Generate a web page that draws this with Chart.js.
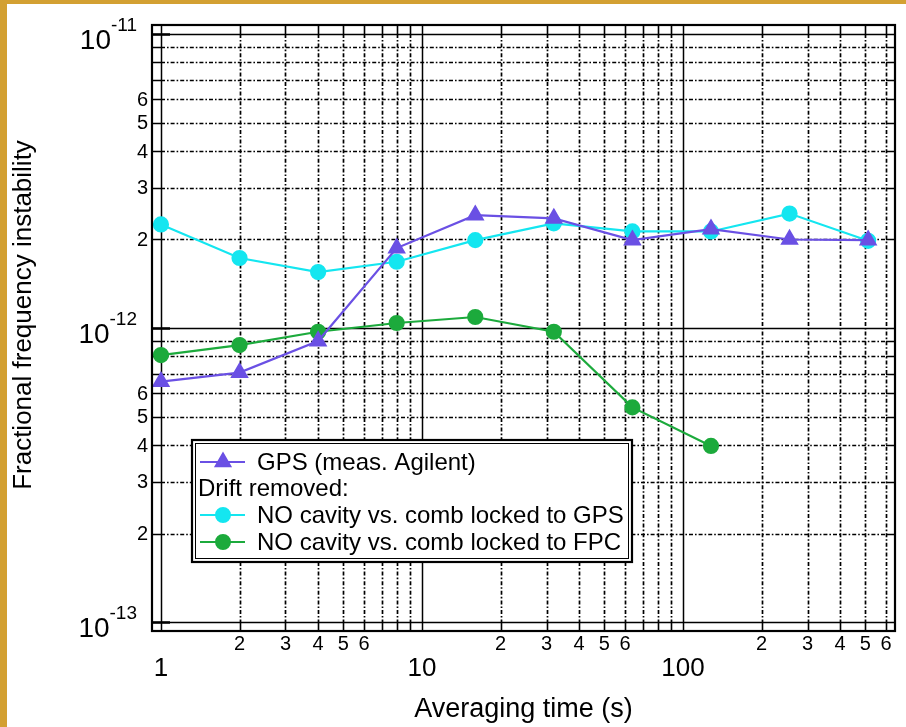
<!DOCTYPE html>
<html>
<head>
<meta charset="utf-8">
<script src="https://cdn.jsdelivr.net/npm/chart.js@4.4.0/dist/chart.umd.min.js"></script>
<style>
  html, body { margin: 0; padding: 0; background: #fff; }
  #wrap { width: 906px; height: 727px; }
</style>
</head>
<body>
<div id="wrap"><canvas id="adev" width="906" height="727"></canvas></div>
<script>
// averaging times (s) and Allan deviations
const tau = [1, 2, 4, 8, 16, 32, 64, 128, 256, 512];
const gpsAgilent = [6.57e-13, 7.05e-13, 9.03e-13, 1.87e-12, 2.42e-12, 2.36e-12, 1.99e-12, 2.17e-12, 2.0e-12, 1.99e-12];
const cavityVsGps = [2.25e-12, 1.73e-12, 1.55e-12, 1.68e-12, 1.99e-12, 2.27e-12, 2.13e-12, 2.13e-12, 2.45e-12, 1.98e-12];
const cavityVsFpc = [8.09e-13, 8.75e-13, 9.71e-13, 1.04e-12, 1.09e-12, 9.71e-13, 5.37e-13, 3.97e-13];

// axis labelling
const xDecades = [1, 10, 100];
const xMinorLabels = [2, 3, 4, 5, 6];
const yExponents = [-13, -12, -11];
const yMinorLabels = [2, 3, 4, 5, 6];

const X_MIN = 0.924, X_MAX = 649;
const Y_MIN = 9.32e-14, Y_MAX = 1.073e-11;

const FONT = '"Liberation Sans", Arial, Helvetica, sans-serif';
const GOLD = '#d3a032';
const GRID_DASH = [4, 2, 1.6, 2];

function pts(ys) {
  return ys.map((y, i) => ({ x: tau[i], y: y }));
}

// every 1..9 x 10^n inside [lo, hi]
function logLines(lo, hi) {
  const out = [];
  const n0 = Math.floor(Math.log10(lo)), n1 = Math.ceil(Math.log10(hi));
  for (let n = n0; n <= n1; n++) {
    for (let k = 1; k <= 9; k++) {
      const v = k * Math.pow(10, n);
      if (v >= lo * 0.9999 && v <= hi * 1.0001) out.push({ v: v, major: k === 1 });
    }
  }
  return out;
}

const framePlugin = {
  id: 'allanFrame',
  beforeDraw(chart) {
    const ctx = chart.ctx;
    ctx.save();
    ctx.fillStyle = '#fff';
    ctx.fillRect(0, 0, chart.width, chart.height);
    ctx.fillStyle = GOLD;
    ctx.fillRect(0, 0, chart.width, 4);
    ctx.fillRect(0, 0, 7, chart.height);
    ctx.restore();
  },
  beforeDatasetsDraw(chart) {
    const { ctx, chartArea: a, scales } = chart;
    const xs = scales.x, ys = scales.y;
    const T = 9;
    ctx.save();
    ctx.strokeStyle = '#000';
    // vertical lines
    logLines(X_MIN, X_MAX).forEach(g => {
      const px = Math.round(xs.getPixelForValue(g.v)) + 0.5;
      ctx.beginPath();
      if (g.major) {
        ctx.setLineDash([]);
        ctx.lineWidth = 1.5;
        ctx.moveTo(px, a.top); ctx.lineTo(px, a.bottom);
        ctx.stroke();
      } else {
        ctx.setLineDash(GRID_DASH);
        ctx.lineWidth = 1.7;
        ctx.moveTo(px, a.top + T); ctx.lineTo(px, a.bottom - T);
        ctx.stroke();
        ctx.setLineDash([]);
        ctx.lineWidth = 1.6;
        ctx.beginPath();
        ctx.moveTo(px, a.top); ctx.lineTo(px, a.top + T);
        ctx.moveTo(px, a.bottom - T); ctx.lineTo(px, a.bottom);
        ctx.stroke();
      }
    });
    // horizontal lines
    logLines(Y_MIN, Y_MAX).forEach(g => {
      const py = Math.round(ys.getPixelForValue(g.v)) + 0.5;
      ctx.beginPath();
      if (g.major) {
        ctx.setLineDash([]);
        ctx.lineWidth = 1.5;
        ctx.moveTo(a.left, py); ctx.lineTo(a.right, py);
        ctx.stroke();
        ctx.lineWidth = 2.5;
        ctx.beginPath();
        ctx.moveTo(a.left, py); ctx.lineTo(a.left + 18, py);
        ctx.stroke();
      } else {
        ctx.setLineDash(GRID_DASH);
        ctx.lineWidth = 1.7;
        ctx.moveTo(a.left + T, py); ctx.lineTo(a.right - T, py);
        ctx.stroke();
        ctx.setLineDash([]);
        ctx.lineWidth = 1.6;
        ctx.beginPath();
        ctx.moveTo(a.left, py); ctx.lineTo(a.left + T, py);
        ctx.moveTo(a.right - T, py); ctx.lineTo(a.right, py);
        ctx.stroke();
      }
    });
    ctx.restore();
  },
  afterDatasetsDraw(chart) {
    const { ctx, chartArea: a, scales } = chart;
    const xs = scales.x, ys = scales.y;
    ctx.save();
    ctx.setLineDash([]);
    ctx.strokeStyle = '#000';
    ctx.lineWidth = 2.2;
    ctx.strokeRect(a.left, a.top, a.right - a.left, a.bottom - a.top);

    ctx.fillStyle = '#000';
    // x tick labels
    ctx.textAlign = 'center';
    ctx.textBaseline = 'alphabetic';
    ctx.font = '20px ' + FONT;
    xDecades.forEach(d => {
      xMinorLabels.forEach(k => {
        const v = k * d;
        if (v > X_MAX) return;
        ctx.fillText(String(k), xs.getPixelForValue(v), a.bottom + 19);
      });
    });
    ctx.font = '26px ' + FONT;
    xDecades.forEach(d => ctx.fillText(String(d), xs.getPixelForValue(d), a.bottom + 45));

    // y tick labels
    ctx.textAlign = 'right';
    ctx.textBaseline = 'middle';
    ctx.font = '20px ' + FONT;
    yExponents.forEach(e => {
      yMinorLabels.forEach(k => {
        const v = k * Math.pow(10, e);
        if (v > Y_MAX) return;
        ctx.fillText(String(k), a.left - 4, ys.getPixelForValue(v) + 1);
      });
    });
    ctx.textBaseline = 'alphabetic';
    yExponents.forEach(e => {
      const py = ys.getPixelForValue(Math.pow(10, e));
      const sup = String(e);
      ctx.font = '19px ' + FONT;
      const supW = ctx.measureText(sup).width;
      const supX = a.left - 15;
      ctx.fillText(sup, supX, py - 3);
      ctx.font = '28px ' + FONT;
      ctx.fillText('10', supX - supW, py + 15);
    });

    // axis titles
    ctx.textAlign = 'center';
    ctx.font = '27px ' + FONT;
    ctx.fillText('Averaging time (s)', (a.left + a.right) / 2, a.bottom + 86);
    ctx.save();
    ctx.translate(31, 315);
    ctx.rotate(-Math.PI / 2);
    ctx.font = '26px ' + FONT;
    ctx.fillText('Fractional frequency instability', 0, 0);
    ctx.restore();

    // legend box
    const L = { x: 192, y: 440, w: 440, h: 122 };
    ctx.fillStyle = '#fff';
    ctx.fillRect(L.x, L.y, L.w, L.h);
    ctx.strokeStyle = '#000';
    ctx.lineWidth = 2.2;
    ctx.strokeRect(L.x, L.y, L.w, L.h);
    ctx.lineWidth = 1;
    ctx.strokeRect(L.x + 3.5, L.y + 3.5, L.w - 7, L.h - 7);

    const ds = chart.data.datasets;
    const rows = [
      { ds: ds[0], text: ds[0].label, y: 462 },
      { ds: null, text: 'Drift removed:', y: 488 },
      { ds: ds[1], text: ds[1].label, y: 515 },
      { ds: ds[2], text: ds[2].label, y: 542 }
    ];
    ctx.font = '24px ' + FONT;
    ctx.textAlign = 'left';
    ctx.textBaseline = 'middle';
    rows.forEach(r => {
      ctx.fillStyle = '#000';
      if (!r.ds) {
        ctx.fillText(r.text, 198, r.y + 1);
        return;
      }
      ctx.strokeStyle = r.ds.borderColor;
      ctx.lineWidth = 2;
      ctx.beginPath();
      ctx.moveTo(200, r.y); ctx.lineTo(245, r.y);
      ctx.stroke();
      Chart.helpers.drawPoint(ctx, {
        pointStyle: r.ds.pointStyle,
        radius: r.ds.pointRadius,
        borderWidth: 1
      }, 223, r.y);
      ctx.fillStyle = r.ds.backgroundColor;
      ctx.strokeStyle = r.ds.borderColor;
      ctx.fill();
      ctx.fillStyle = '#000';
      ctx.fillText(r.text, 257, r.y + 1);
    });
    ctx.restore();
  }
};

new Chart(document.getElementById('adev'), {
  type: 'line',
  data: {
    datasets: [
      {
        label: 'GPS (meas. Agilent)',
        data: pts(gpsAgilent),
        borderColor: '#6a50e4',
        backgroundColor: '#6a50e4',
        pointStyle: 'triangle',
        pointRadius: 8.5,
        borderWidth: 2.2
      },
      {
        label: 'NO cavity vs. comb locked to GPS',
        data: pts(cavityVsGps),
        borderColor: '#14e6f0',
        backgroundColor: '#14e6f0',
        pointStyle: 'circle',
        pointRadius: 7,
        borderWidth: 2.2
      },
      {
        label: 'NO cavity vs. comb locked to FPC',
        data: pts(cavityVsFpc),
        borderColor: '#1caa3c',
        backgroundColor: '#1caa3c',
        pointStyle: 'circle',
        pointRadius: 7,
        borderWidth: 2.2
      }
    ]
  },
  options: {
    responsive: false,
    animation: false,
    layout: { padding: { left: 152, top: 25, right: 11, bottom: 96 } },
    plugins: { legend: { display: false }, tooltip: { enabled: false } },
    scales: {
      x: { type: 'logarithmic', min: X_MIN, max: X_MAX, display: false },
      y: { type: 'logarithmic', min: Y_MIN, max: Y_MAX, display: false }
    }
  },
  plugins: [framePlugin]
});
</script>
</body>
</html>
